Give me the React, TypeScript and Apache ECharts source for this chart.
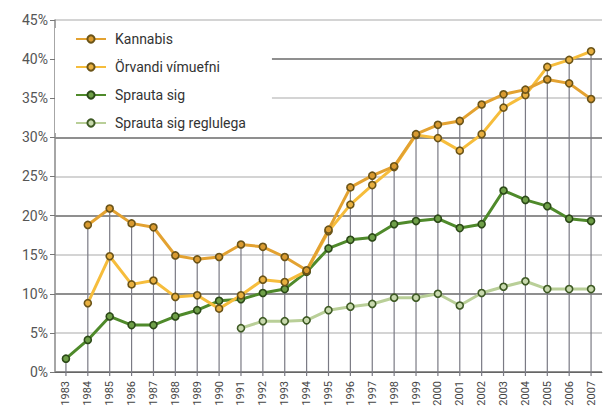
import React, { useEffect, useRef } from "react";
import * as echarts from "echarts";

const years = [
  "1983", "1984", "1985", "1986", "1987", "1988", "1989", "1990", "1991", "1992",
  "1993", "1994", "1995", "1996", "1997", "1998", "1999", "2000", "2001", "2002",
  "2003", "2004", "2005", "2006", "2007",
];

const kannabis = [
  null, 18.8, 20.9, 19.0, 18.5, 14.9, 14.4, 14.7, 16.3, 16.0,
  14.7, 13.0, 18.2, 23.6, 25.1, 26.3, 30.4, 31.6, 32.1, 34.2,
  35.5, 36.1, 37.4, 36.9, 34.9,
];

const orvandi = [
  null, 8.8, 14.8, 11.2, 11.7, 9.6, 9.8, 8.1, 9.8, 11.8,
  11.5, 12.9, 18.0, 21.4, 23.9, 26.2, 30.3, 29.9, 28.3, 30.4,
  33.8, 35.4, 39.0, 39.9, 41.0,
];

const sprauta = [
  1.7, 4.1, 7.1, 6.0, 6.0, 7.1, 7.9, 9.1, 9.3, 10.1,
  10.6, 12.8, 15.8, 16.9, 17.2, 18.9, 19.3, 19.6, 18.4, 18.9,
  23.2, 22.0, 21.2, 19.6, 19.3,
];

const spr_reglulega = [
  null, null, null, null, null, null, null, null, 5.6, 6.5,
  6.5, 6.6, 7.9, 8.35, 8.7, 9.5, 9.5, 10.0, 8.5, 10.1,
  10.9, 11.6, 10.6, 10.6, 10.6,
];

const seriesNames = ["Kannabis", "Örvandi vímuefni", "Sprauta sig", "Sprauta sig reglulega"];
const yTicks = [0, 5, 10, 15, 20, 25, 30, 35, 40, 45];

const FONT = "Roboto, 'Noto Sans', sans-serif";

export default function App() {
  const ref = useRef<HTMLDivElement>(null);

  useEffect(() => {
    if (!ref.current) return;
    const chart = echarts.init(ref.current, undefined, { renderer: "svg" });

    const all = [kannabis, orvandi, sprauta, spr_reglulega];
    const maxes = years.map((_, i) => {
      let m = 0;
      all.forEach((s) => {
        const v = s[i];
        if (v != null && v > m) m = v;
      });
      return [i, m];
    });

    const mkLine = (
      name: string,
      data: (number | null)[],
      color: string,
      fill: string,
      border: string,
      width: number
    ) => ({
      name,
      type: "line",
      data,
      z: 3,
      symbol: "circle",
      symbolSize: 7,
      showSymbol: true,
      connectNulls: false,
      lineStyle: { color, width },
      itemStyle: { color: fill, borderColor: border, borderWidth: 1.6 },
      emphasis: { disabled: true },
    });

    chart.setOption({
      animation: false,
      backgroundColor: "#ffffff",
      grid: { left: 55, right: 3, top: 20, bottom: 41, containLabel: false },
      legend: {
        show: true,
        orient: "vertical",
        left: 55,
        top: 28,
        padding: [4, 26, 3, 20],
        backgroundColor: "#ffffff",
        itemWidth: 30,
        itemHeight: 9,
        itemGap: 14,
        data: seriesNames,
        textStyle: { fontFamily: FONT, fontSize: 14, color: "#333", padding: [0, 0, 0, 4] },
        selectedMode: false,
      },
      xAxis: {
        type: "category",
        data: years,
        boundaryGap: true,
        axisLine: { show: true, lineStyle: { color: "#666", width: 1 } },
        axisTick: { show: false },
        axisLabel: {
          rotate: 90,
          interval: 0,
          fontFamily: FONT,
          fontSize: 11,
          color: "#444",
          margin: 9,
        },
        splitLine: { show: false },
      },
      yAxis: {
        type: "value",
        min: yTicks[0],
        max: yTicks[yTicks.length - 1],
        interval: 5,
        axisLine: { show: true, lineStyle: { color: "#888", width: 1.5 } },
        axisTick: { show: true, length: 5, lineStyle: { color: "#777" } },
        axisLabel: {
          formatter: (v: number) => `${v}%`,
          fontFamily: FONT,
          fontSize: 14,
          color: "#555",
          margin: 7,
        },
        splitLine: {
          show: true,
          lineStyle: { color: ["#6a6a6a", "#c6c6c6"], width: 1.5 },
        },
      },
      series: [
        {
          name: "drop",
          type: "custom",
          z: 1,
          silent: true,
          data: maxes,
          renderItem: (params: any, api: any) => {
            const idx = api.value(0);
            const v = api.value(1);
            const top = api.coord([idx, v]);
            const bot = api.coord([idx, 0]);
            return {
              type: "line",
              shape: { x1: top[0], y1: top[1], x2: bot[0], y2: bot[1] + 4 },
              style: { stroke: "#7a7a84", lineWidth: 1.2 },
            };
          },
        },
        mkLine("Sprauta sig reglulega", spr_reglulega, "#b9cf98", "#c8d9ad", "#3e5a24", 3),
        mkLine("Sprauta sig", sprauta, "#4f8a2b", "#6fa048", "#2c4a18", 3),
        mkLine("Örvandi vímuefni", orvandi, "#f6bd3c", "#e8b040", "#6b5418", 3),
        mkLine("Kannabis", kannabis, "#e3a231", "#d99a30", "#6b5418", 3),
      ],
    });

    return () => chart.dispose();
  }, []);

  return (
    <div
      ref={ref}
      style={{ position: "fixed", left: 0, top: 0, width: 605, height: 413 }}
    />
  );
}
